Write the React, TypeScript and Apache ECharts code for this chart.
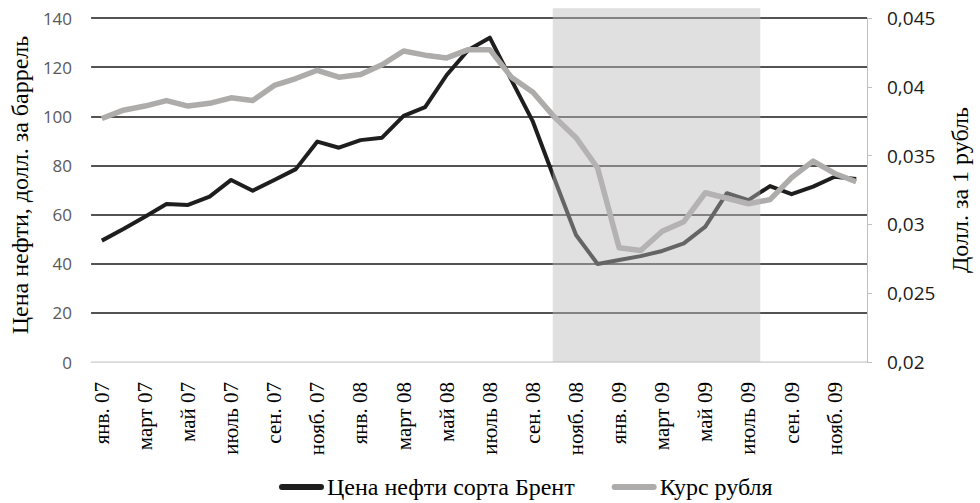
import React, { useEffect, useRef } from "react";
import * as echarts from "echarts";

const months = [
  "янв. 07", "февр. 07", "март 07", "апр. 07", "май 07", "июнь 07", "июль 07", "авг. 07", "сен. 07", "окт. 07", "нояб. 07", "дек. 07",
  "янв. 08", "февр. 08", "март 08", "апр. 08", "май 08", "июнь 08", "июль 08", "авг. 08", "сен. 08", "окт. 08", "нояб. 08", "дек. 08",
  "янв. 09", "февр. 09", "март 09", "апр. 09", "май 09", "июнь 09", "июль 09", "авг. 09", "сен. 09", "окт. 09", "нояб. 09", "дек. 09",
];

const brentPrice = [
  49.4, 54.1, 59.1, 64.3, 63.9, 67.3, 74.1, 69.7, 74.1, 78.5, 89.7, 87.2,
  90.3, 91.3, 100.2, 103.7, 116.8, 127.0, 132.0, 114.8, 97.8, 74.5, 51.7, 39.9,
  41.5, 43.1, 45.2, 48.3, 55.1, 68.7, 65.9, 71.6, 68.3, 71.4, 75.4, 74.5,
];

const rubleRate = [
  0.0377, 0.0383, 0.0386, 0.0390, 0.0386, 0.0388, 0.0392, 0.0390, 0.0401, 0.0406, 0.0412, 0.0407,
  0.0409, 0.0416, 0.0426, 0.0423, 0.0421, 0.0427, 0.0427, 0.0407, 0.0396, 0.0378, 0.0363, 0.0341,
  0.0283, 0.0281, 0.0295, 0.0302, 0.0323, 0.0319, 0.0315, 0.0318, 0.0334, 0.0346, 0.0337, 0.0331,
];

// crisis period shading, in month-index units (from, to) and top value on the left axis
const crisisBand = [[20.92, 30.55, 144]];

const leftTicks = { min: 0, max: 140, interval: 20 };
const rightTicks = { min: 0.02, max: 0.045, interval: 0.005 };

const seriesNames = ["Цена нефти сорта Брент", "Курс рубля"];

export default function App() {
  const ref = useRef<HTMLDivElement>(null);

  useEffect(() => {
    if (!ref.current) return;
    const chart = echarts.init(ref.current, undefined, { renderer: "svg" });
    const serif = "Liberation Serif";
    const sans = "Open Sans";
    const gridColors = ["#d9d9d9", "#1a1a1a", "#1a1a1a", "#1a1a1a", "#1a1a1a", "#1a1a1a", "#1a1a1a", "#1a1a1a"];

    chart.setOption({
      animation: false,
      backgroundColor: "#ffffff",
      grid: { left: 87, right: 108, top: 18, bottom: 141, containLabel: false },
      legend: {
        left: 274,
        top: 470,
        itemGap: 37,
        itemWidth: 45,
        itemHeight: 6,
        icon: "path://M3,0 L42,0 A3,3 0 0 1 42,6 L3,6 A3,3 0 0 1 3,0 Z",
        textStyle: { fontFamily: serif, fontSize: 24, color: "#000", padding: [0, 0, 0, -2] },
        data: seriesNames,
      },
      xAxis: [
        {
          type: "category",
          data: months,
          boundaryGap: true,
          axisLine: { show: true, lineStyle: { color: "#d9d9d9", width: 1 } },
          axisTick: { show: false },
          axisLabel: {
            interval: 1,
            rotate: 90,
            margin: 20,
            fontFamily: serif,
            fontSize: 21,
            color: "#000",
          },
          splitLine: { show: false },
        },
        {
          type: "value",
          show: false,
          min: -0.5,
          max: months.length - 0.5,
          position: "bottom",
        },
      ],
      yAxis: [
        {
          type: "value",
          min: leftTicks.min,
          max: leftTicks.max,
          interval: leftTicks.interval,
          name: "Цена нефти, долл. за баррель",
          nameLocation: "middle",
          nameRotate: 90,
          nameGap: 55,
          nameTextStyle: { fontFamily: serif, fontSize: 24, color: "#000", padding: [0, 0, 0, 10] },
          axisLine: { show: false },
          axisTick: { show: false },
          axisLabel: { margin: 19, fontFamily: sans, fontSize: 17, color: "#595959" },
          splitLine: { show: true, lineStyle: { color: gridColors, width: 1.5 } },
        },
        {
          type: "value",
          position: "right",
          min: rightTicks.min,
          max: rightTicks.max,
          interval: rightTicks.interval,
          name: "Долл. за 1 рубль",
          nameLocation: "middle",
          nameRotate: 90,
          nameGap: 81,
          nameTextStyle: { fontFamily: serif, fontSize: 24, color: "#000" },
          axisLine: { show: true, lineStyle: { color: "#bfbfbf", width: 1 } },
          axisTick: { show: true, inside: false, length: 5, lineStyle: { color: "#bfbfbf" } },
          axisLabel: {
            margin: 20,
            fontFamily: sans,
            fontSize: 19,
            color: "#1a1a1a",
            formatter: (v: number) => String(+v.toFixed(3)).replace(".", ","),
          },
          splitLine: { show: false },
        },
      ],
      series: [
        {
          name: seriesNames[0],
          type: "line",
          data: brentPrice,
          xAxisIndex: 0,
          yAxisIndex: 0,
          symbol: "none",
          z: 2,
          lineStyle: { color: "#1e1e1e", width: 4, join: "round" },
          itemStyle: { color: "#1e1e1e" },
        },
        {
          name: seriesNames[1],
          type: "line",
          data: rubleRate,
          xAxisIndex: 0,
          yAxisIndex: 1,
          symbol: "none",
          z: 2,
          lineStyle: { color: "#aeabab", width: 5.5, join: "round" },
          itemStyle: { color: "#aeabab" },
        },
        {
          name: "crisis",
          type: "custom",
          xAxisIndex: 1,
          yAxisIndex: 0,
          z: 5,
          silent: true,
          clip: false,
          data: crisisBand,
          renderItem: (params: any, api: any) => {
            const p0 = api.coord([api.value(0), 0]);
            const p1 = api.coord([api.value(1), api.value(2)]);
            return {
              type: "rect",
              shape: { x: p0[0], y: p1[1], width: p1[0] - p0[0], height: p0[1] - p1[1] },
              style: { fill: "rgba(187,187,187,0.455)" },
            };
          },
        },
      ],
    });

    return () => chart.dispose();
  }, []);

  return <div ref={ref} style={{ width: 980, height: 503, position: "absolute", left: 0, top: 0 }} />;
}
